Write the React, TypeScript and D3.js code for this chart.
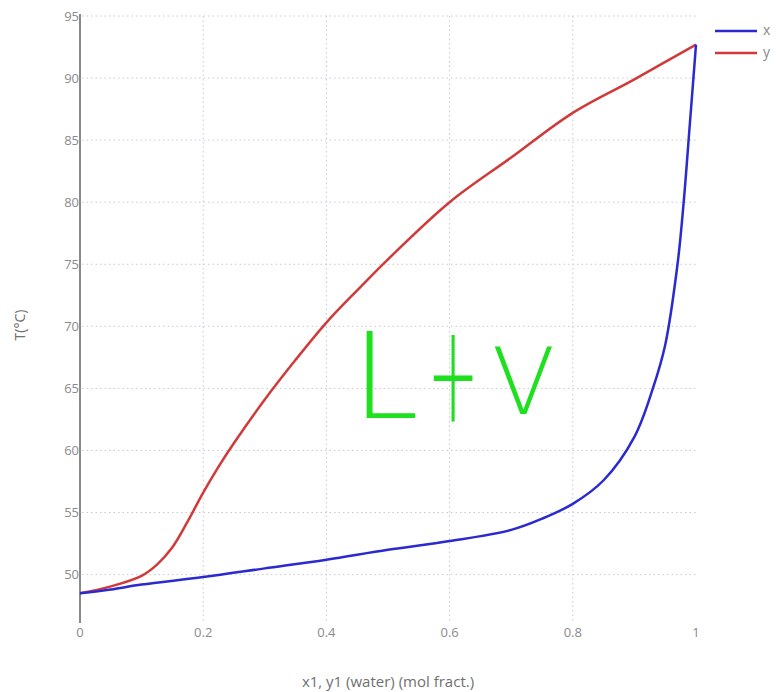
import { useEffect, useRef } from "react";
import * as d3 from "d3";

// liquid line (x) and vapour line (y), water mole fraction vs T
const liquidX = [0, 0.05, 0.1, 0.2, 0.3, 0.4, 0.5, 0.6, 0.7, 0.75, 0.8, 0.85, 0.9, 0.93, 0.95, 0.97, 0.98, 0.99, 1.0];
const liquidT = [48.5, 48.8, 49.2, 49.8, 50.5, 51.2, 52.0, 52.7, 53.6, 54.5, 55.7, 57.6, 61.1, 65.0, 68.5, 75.0, 80.0, 86.3, 92.7];

const vapourX = [0, 0.05, 0.1, 0.125, 0.15, 0.175, 0.2, 0.225, 0.25, 0.3, 0.35, 0.4, 0.45, 0.5, 0.6, 0.7, 0.8, 0.9, 1.0];
const vapourT = [48.5, 49.05, 49.9, 50.8, 52.2, 54.3, 56.6, 58.7, 60.6, 64.1, 67.3, 70.3, 72.9, 75.4, 80.0, 83.6, 87.2, 89.9, 92.7];

const xTicks = [0, 0.2, 0.4, 0.6, 0.8, 1];
const yTicks = [50, 55, 60, 65, 70, 75, 80, 85, 90, 95];

const seriesNames = ["x", "y"];
const seriesColors = ["#2a2ad0", "#d03a3a"];

const FONT = "'Open Sans', sans-serif";

export default function App() {
  const ref = useRef<SVGSVGElement>(null);

  useEffect(() => {
    const svg = d3.select(ref.current);
    svg.selectAll("*").remove();

    const width = 776;
    const height = 692;
    const left = 80;
    const right = 696;
    const top = 16;
    const bottom = 623;

    const x = d3.scaleLinear().domain([0, 1]).range([left, right]);
    const y = d3.scaleLinear().domain([46.1, 95]).range([bottom, top]);

    svg.attr("width", width).attr("height", height);

    // grid
    const grid = svg.append("g");
    grid
      .selectAll(".hgrid")
      .data(yTicks)
      .enter()
      .append("line")
      .attr("x1", left + 2)
      .attr("x2", right)
      .attr("y1", (d) => y(d))
      .attr("y2", (d) => y(d))
      .attr("stroke", "#c8c8d8")
      .attr("stroke-dasharray", "1.5,3");
    grid
      .selectAll(".vgrid")
      .data(xTicks.filter((d) => d > 0 && d < 1))
      .enter()
      .append("line")
      .attr("x1", (d) => x(d))
      .attr("x2", (d) => x(d))
      .attr("y1", top)
      .attr("y2", bottom)
      .attr("stroke", "#c8c8d8")
      .attr("stroke-dasharray", "1.5,3");

    // y axis line
    svg
      .append("line")
      .attr("x1", left)
      .attr("x2", left)
      .attr("y1", top - 2)
      .attr("y2", bottom)
      .attr("stroke", "#8a8a8a")
      .attr("stroke-width", 2);

    svg
      .append("g")
      .selectAll("text")
      .data(yTicks)
      .enter()
      .append("text")
      .attr("x", left - 1)
      .attr("y", (d) => y(d))
      .attr("dy", "0.35em")
      .attr("text-anchor", "end")
      .attr("font-family", FONT)
      .attr("font-size", 13)
      .attr("fill", "#8a8a8a")
      .text((d) => d);

    svg
      .append("g")
      .selectAll("text")
      .data(xTicks)
      .enter()
      .append("text")
      .attr("x", (d) => x(d))
      .attr("y", 637)
      .attr("text-anchor", "middle")
      .attr("font-family", FONT)
      .attr("font-size", 13)
      .attr("fill", "#8a8a8a")
      .text((d) => d3.format("~g")(d));

    svg
      .append("text")
      .attr("x", 388)
      .attr("y", 687)
      .attr("text-anchor", "middle")
      .attr("font-family", FONT)
      .attr("font-size", 15)
      .attr("fill", "#707070")
      .text("x1, y1 (water) (mol fract.)");

    svg
      .append("text")
      .attr("transform", "translate(25,325) rotate(-90)")
      .attr("text-anchor", "middle")
      .attr("font-family", FONT)
      .attr("font-size", 14)
      .attr("fill", "#707070")
      .text("T(°C)");

    // curves
    const line = d3
      .line<[number, number]>()
      .x((d) => x(d[0]))
      .y((d) => y(d[1]))
      .curve(d3.curveCatmullRom.alpha(0.5));

    const liquid = liquidX.map((v, i) => [v, liquidT[i]] as [number, number]);
    const vapour = vapourX.map((v, i) => [v, vapourT[i]] as [number, number]);

    svg
      .append("path")
      .attr("d", line(vapour))
      .attr("fill", "none")
      .attr("stroke", seriesColors[1])
      .attr("stroke-width", 2.5);
    svg
      .append("path")
      .attr("d", line(liquid))
      .attr("fill", "none")
      .attr("stroke", seriesColors[0])
      .attr("stroke-width", 2.5);

    // legend
    const legend = svg.append("g");
    seriesNames.forEach((name, i) => {
      const ly = 31 + i * 22;
      legend
        .append("line")
        .attr("x1", 715)
        .attr("x2", 757)
        .attr("y1", ly)
        .attr("y2", ly)
        .attr("stroke", seriesColors[i])
        .attr("stroke-width", 2.5);
      legend
        .append("text")
        .attr("x", 763)
        .attr("y", ly)
        .attr("dy", "0.3em")
        .attr("font-family", FONT)
        .attr("font-size", 14)
        .attr("fill", "#8a8a8a")
        .text(name);
    });

    // handwritten annotation "L+V"
    const note = svg
      .append("g")
      .attr("font-family", "'DejaVu Sans', sans-serif")
      .attr("font-weight", 200)
      .attr("fill", "#1ee01e");
    note.append("text").attr("x", 352).attr("y", 418).attr("font-size", 120).text("L");
    note
      .append("text")
      .attr("transform", "translate(453,421) scale(0.65,1.45)")
      .attr("text-anchor", "middle")
      .attr("font-size", 95)
      .text("+");
    note.append("text").attr("x", 492).attr("y", 414).attr("font-size", 92).text("V");
  }, []);

  return (
    <svg
      ref={ref}
      style={{ position: "absolute", left: 0, top: 0, background: "#fff" }}
    />
  );
}
